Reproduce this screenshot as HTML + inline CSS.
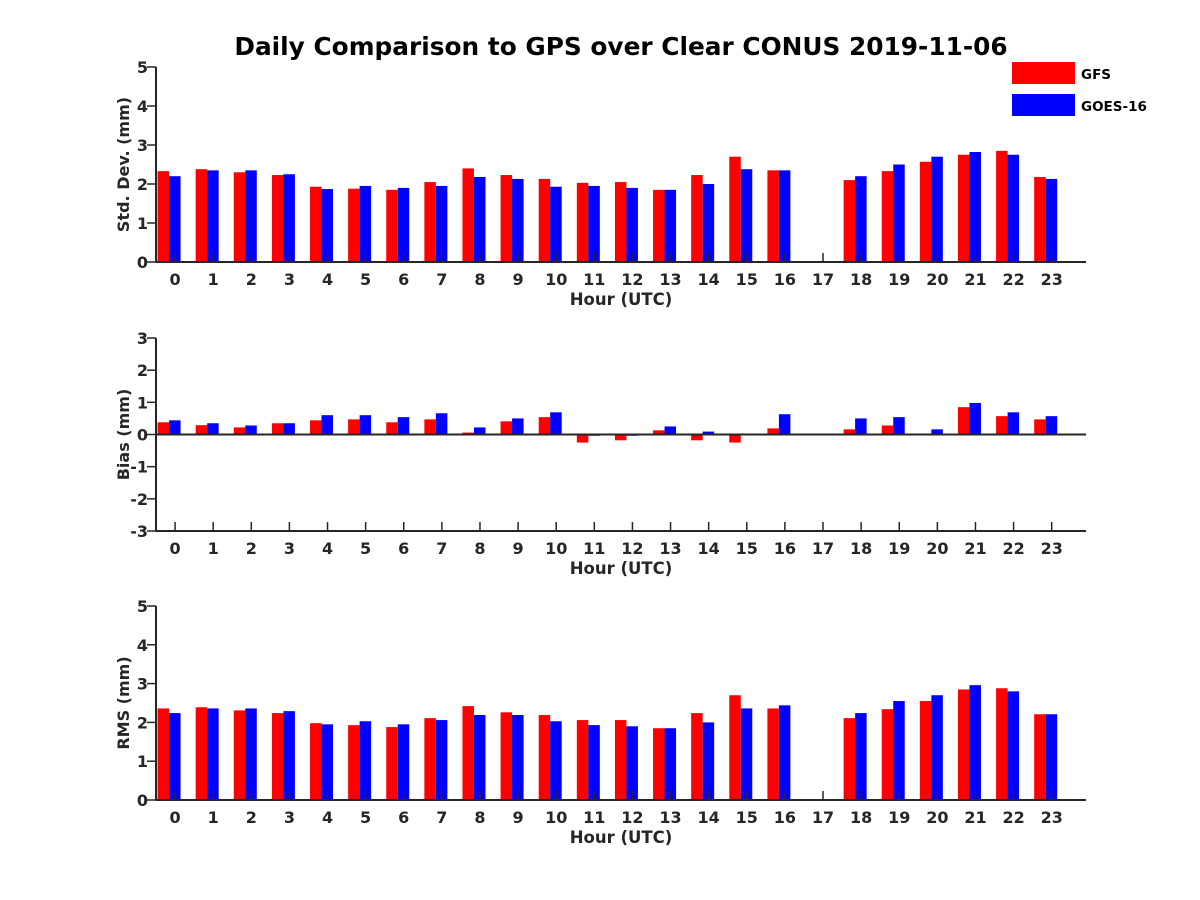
<!DOCTYPE html>
<html><head><meta charset="utf-8"><style>
body{margin:0;background:#fff}
svg{display:block;font-family:"DejaVu Sans","Liberation Sans",sans-serif;font-weight:bold}
</style></head><body>
<svg id="chart" width="1200" height="900" viewBox="0 0 1200 900" xmlns="http://www.w3.org/2000/svg">
<text x="621" y="55" font-size="24.8" text-anchor="middle" fill="#000">Daily Comparison to GPS over Clear CONUS 2019-11-06</text>
<g>
<rect x="1012" y="62" width="63" height="22" fill="#ff0000"/>
<text x="1081" y="79" font-size="13.5">GFS</text>
<rect x="1012" y="94" width="63" height="22" fill="#0000ff"/>
<text x="1081" y="111" font-size="13.5">GOES-16</text>
</g>
</svg>
<script>
const hours = [0,1,2,3,4,5,6,7,8,9,10,11,12,13,14,15,16,17,18,19,20,21,22,23];
const stdGFS  = [2.33,2.38,2.30,2.23,1.93,1.88,1.85,2.05,2.40,2.23,2.13,2.03,2.05,1.85,2.23,2.70,2.35,null,2.10,2.33,2.57,2.75,2.85,2.18];
const stdGOES = [2.20,2.35,2.35,2.25,1.87,1.95,1.90,1.95,2.18,2.13,1.93,1.95,1.90,1.85,2.00,2.38,2.35,null,2.20,2.50,2.70,2.82,2.75,2.13];
const biasGFS  = [0.38,0.29,0.22,0.35,0.44,0.47,0.38,0.47,0.06,0.41,0.54,-0.25,-0.18,0.13,-0.18,-0.25,0.19,null,0.16,0.28,-0.03,0.85,0.57,0.47];
const biasGOES = [0.44,0.35,0.28,0.35,0.60,0.60,0.54,0.66,0.22,0.50,0.69,-0.04,-0.04,0.25,0.09,0.03,0.63,null,0.50,0.54,0.16,0.98,0.69,0.57];
const rmsGFS  = [2.36,2.39,2.31,2.24,1.98,1.93,1.88,2.11,2.42,2.26,2.19,2.06,2.06,1.85,2.24,2.70,2.36,null,2.11,2.34,2.55,2.85,2.88,2.21];
const rmsGOES = [2.24,2.36,2.36,2.29,1.95,2.03,1.95,2.06,2.19,2.19,2.03,1.93,1.90,1.85,2.00,2.36,2.44,null,2.24,2.55,2.70,2.96,2.80,2.21];
const stdTicks = ["0","1","2","3","4","5"];
const biasTicks = ["-3","-2","-1","0","1","2","3"];
const rmsTicks = ["0","1","2","3","4","5"];

const svg = document.getElementById('chart');
const NS = 'http://www.w3.org/2000/svg';
function mk(tag, attrs, parent){const e=document.createElementNS(NS,tag);for(const k in attrs)e.setAttribute(k,attrs[k]);(parent||svg).appendChild(e);return e;}
const X0=156, X1=1086, XMIN=-0.5, XMAX=23.9;
function xs(v){return X0+(v-XMIN)/(XMAX-XMIN)*(X1-X0);}

function panel(name, top, bottom, ymin, ymax, ticks, red, blue, ytitle){
  const g = mk('g',{});
  
  
  const ys = v => bottom-(v-ymin)/(ymax-ymin)*(bottom-top);
  const y0 = ys(Math.max(0,ymin));
  hours.forEach((h,i)=>{
    [[red[i],'#ff0000',-17.5,'gfs'],[blue[i],'#0000ff',-6,'goes']].forEach(([v,c,off,s])=>{
      if(v===null) return;
      const yv=ys(v);
      const r=mk('rect',{x:xs(h)+off,y:Math.min(yv,y0),width:11.5,height:Math.abs(yv-y0),fill:c},g);
      
      
    });
  });
  const ya=mk('line',{x1:X0,y1:top,x2:X0,y2:bottom,stroke:'#262626','stroke-width':2},g);
  
  
  const xa=mk('line',{x1:X0,y1:bottom,x2:X1,y2:bottom,stroke:'#262626','stroke-width':2},g);
  
  
  if(ymin<0){
    const zl=mk('line',{x1:X0,y1:ys(0),x2:X1,y2:ys(0),stroke:'#262626','stroke-width':2},g);
    
    
  }
  ticks.forEach(t=>{
    const v=parseFloat(t), y=ys(v);
    mk('line',{x1:X0-9,y1:y,x2:X0,y2:y,stroke:'#262626','stroke-width':1.5},g);
    const tx=mk('text',{x:X0-8,y:y+6,'font-size':16,'text-anchor':'end',fill:'#262626'},g);
    tx.textContent=t;
    
    
  });
  hours.forEach(h=>{
    mk('line',{x1:xs(h),y1:bottom,x2:xs(h),y2:bottom-9,stroke:'#262626','stroke-width':1.5},g);
    const tx=mk('text',{x:xs(h),y:bottom+23,'font-size':16,'text-anchor':'middle',fill:'#262626'},g);
    tx.textContent=String(h);
    
    
  });
  const xt=mk('text',{x:621,y:bottom+43,'font-size':16.5,'text-anchor':'middle',fill:'#262626'},g);
  xt.textContent='Hour (UTC)';
  
  
  const cy=(top+bottom)/2;
  const yt=mk('text',{x:0,y:0,'font-size':16,'text-anchor':'middle',fill:'#262626',transform:'translate(129,'+cy+') rotate(-90)'},g);
  yt.textContent=ytitle;
  
  
}
panel('std',67,262,0,5,stdTicks,stdGFS,stdGOES,'Std. Dev. (mm)');
panel('bias',338,531,-3,3,biasTicks,biasGFS,biasGOES,'Bias (mm)');
panel('rms',606,800,0,5,rmsTicks,rmsGFS,rmsGOES,'RMS (mm)');
</script>
</body></html>
